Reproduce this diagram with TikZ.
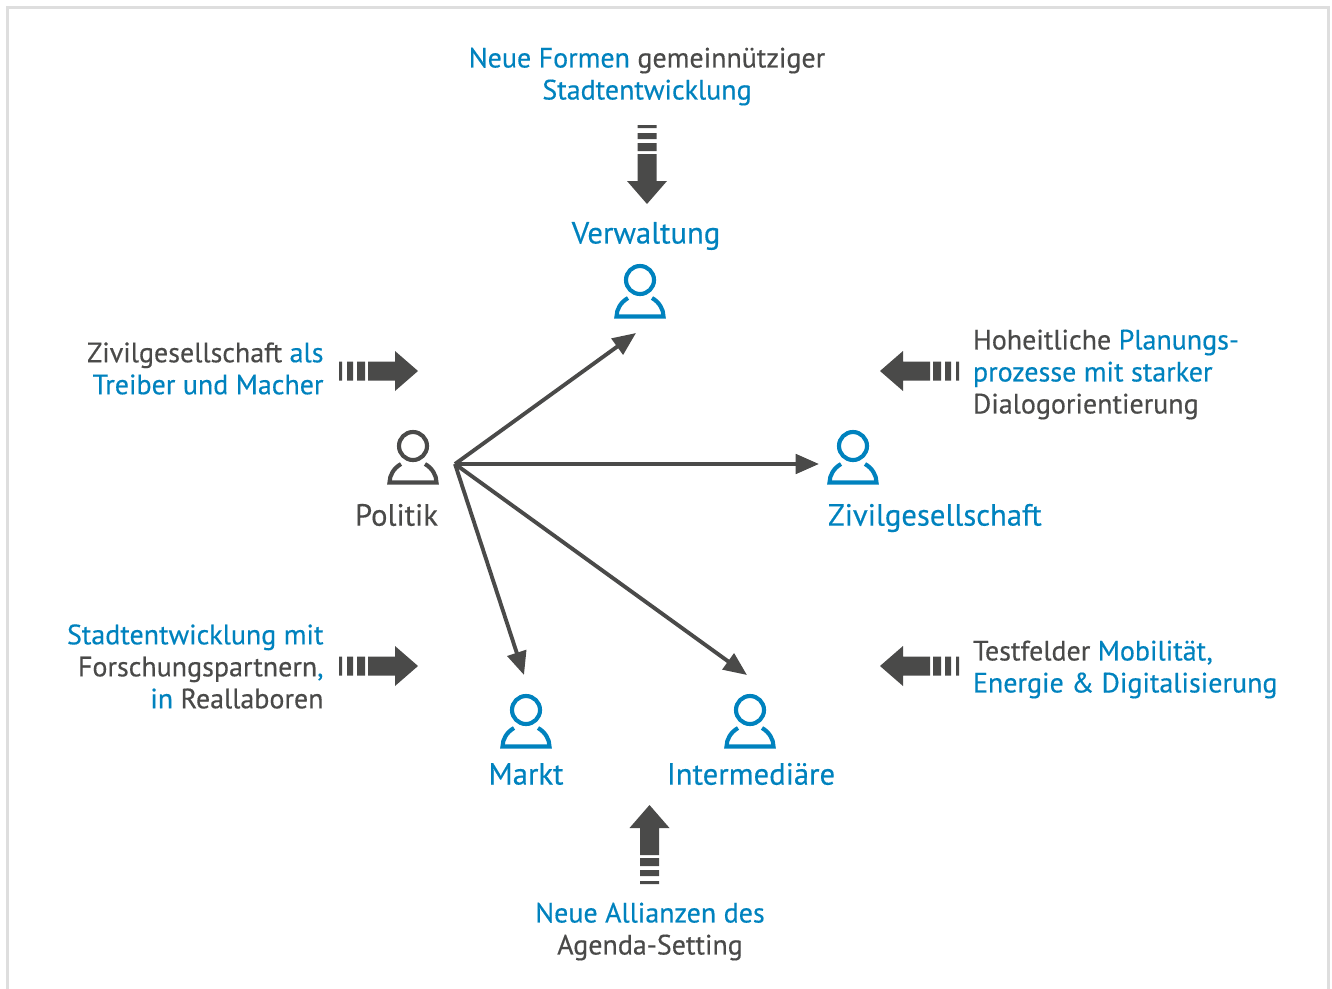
\documentclass[tikz,border=0pt]{standalone}
\usepackage{fontspec}
\setmainfont{PT Sans}[FakeBold=0.4]
\usetikzlibrary{arrows.meta}
\definecolor{cblue}{HTML}{0082BE}
\definecolor{cdark}{HTML}{4A4A49}
\definecolor{cframe}{HTML}{DEDEDE}
\newcommand{\bl}[1]{\textcolor{cblue}{#1}}
\newcommand{\blockarrow}[3]{\begin{scope}[shift={(#1,#2)},rotate=#3]
 \fill[cdark] (0,-9.5) rectangle (3,9.5) (8,-9.5) rectangle (14,9.5) (18,-9.5) rectangle (26,9.5);
 \fill[cdark] (29,-9.5) -- (56,-9.5) -- (56,-20) -- (79,0) -- (56,20) -- (56,9.5) -- (29,9.5) -- cycle;
\end{scope}}
\newcommand{\person}[3]{\begin{scope}[shift={(#1,#2)},draw=#3,line width=3.1pt]
 \draw (0,0) circle[radius=14];
 \draw[line join=miter] (-12,18) .. controls (-19,22) and (-23.5,29) .. (-23.5,36.5) -- (23.5,36.5) .. controls (23.5,29) and (19,22) .. (12,18);
\end{scope}}
\tikzset{lab/.style={font=\fontsize{21}{24}\selectfont,text=cdark,inner sep=0pt,outer sep=0pt},
 big/.style={font=\fontsize{23}{24}\selectfont,text=cblue,inner sep=0pt,outer sep=0pt},
 conn/.style={cdark,line width=2.9pt,-{Triangle[length=17.5pt,width=14.5pt]}}}
\begin{document}
\begin{tikzpicture}[x=0.75pt,y=-0.75pt]
\useasboundingbox (0,0) rectangle (1332,989);
\draw[cframe,line width=2.2pt] (7.5,989) -- (7.5,7.5) -- (1328.5,7.5) -- (1328.5,989);
\person{640}{280}{cblue}
\person{413}{446}{cdark}
\person{853}{446}{cblue}
\person{526}{710}{cblue}
\person{750}{710}{cblue}
\blockarrow{647}{125}{-90}
\blockarrow{339}{371}{0}
\blockarrow{339}{666}{0}
\blockarrow{959}{371}{180}
\blockarrow{959}{666}{180}
\blockarrow{649.5}{884}{90}
\coordinate (hub) at (455,464);
\coordinate (toV) at (636,333);
\coordinate (toZ) at (819,464);
\coordinate (toM) at (524,675);
\coordinate (toI) at (747,675);
\draw[conn] (hub) -- (toV);
\draw[conn] (hub) -- (toZ);
\draw[conn] (hub) -- (toM);
\draw[conn] (hub) -- (toI);
\node[lab,align=center] (t1) at (647,76.5) {\bl{Neue Formen} gemeinnütziger\\\bl{Stadtentwicklung}};
\node[big] (verw) at (646,236) {Verwaltung};
\node[lab,align=right,anchor=east] (t2) at (323.5,368.5) {Zivilgesellschaft \bl{als}\\\bl{Treiber und Macher}};
\node[lab,align=left,anchor=west] (t3) at (973,374.5) {Hoheitliche \bl{Planungs-}\\\bl{prozesse mit starker}\\Dialogorientierung};
\node[big,text=cdark] (pol) at (396.5,515) {Politik};
\node[big,anchor=west] (ziv) at (828,518) {Zivilgesellschaft};
\node[lab,align=right,anchor=east] (t4) at (323.5,666.5) {\bl{Stadtentwicklung mit}\\Forschungspartnern\bl{,}\\\bl{in} Reallaboren};
\node[lab,align=left,anchor=west] (t5) at (973,669.5) {Testfelder \bl{Mobilität,}\\\bl{Energie \& Digitalisierung}};
\node[big] (mar) at (526,774) {Markt};
\node[big] (int) at (751,774) {Intermediäre};
\node[lab,align=center] (t6) at (650,931.5) {\bl{Neue Allianzen des}\\Agenda-Setting};
\end{tikzpicture}
\end{document}
